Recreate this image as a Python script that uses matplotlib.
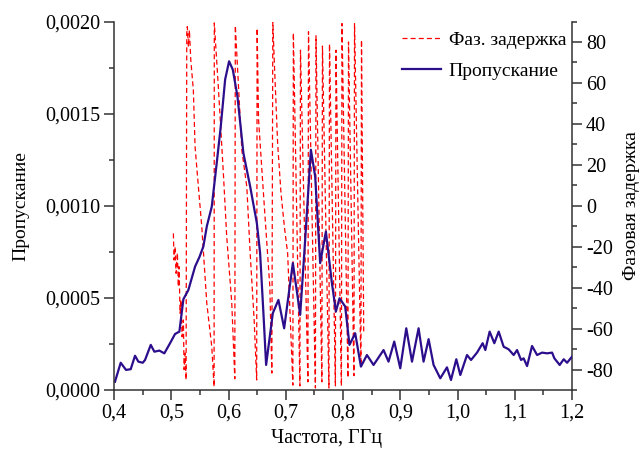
import matplotlib
matplotlib.use("Agg")
import matplotlib.pyplot as plt
from matplotlib.ticker import MultipleLocator, FuncFormatter

plt.rcParams['font.family'] = ['Liberation Serif', 'DejaVu Serif']

# transmission spectrum, GHz
trans_freq = [0.4017, 0.4117, 0.4210, 0.4292, 0.4367, 0.4425, 0.4502, 0.4542,
              0.4642, 0.4705, 0.4792, 0.4879, 0.4979, 0.5066, 0.5142, 0.5212,
              0.5299, 0.5416, 0.5491, 0.5561, 0.5621, 0.5708, 0.5795, 0.5865,
              0.5941, 0.6010, 0.6075, 0.6156, 0.6260, 0.6378, 0.6495, 0.6552,
              0.6610, 0.6657, 0.6774, 0.6872, 0.6972, 0.7124, 0.7252, 0.7339,
              0.7439, 0.7514, 0.7601, 0.7701, 0.7806, 0.7876, 0.7939, 0.8038,
              0.8113, 0.8213, 0.8313, 0.8418, 0.8533, 0.8592, 0.8708, 0.8795,
              0.8895, 0.9000, 0.9105, 0.9205, 0.9320, 0.9407, 0.9495, 0.9582,
              0.9699, 0.9816, 0.9886, 0.9979, 1.0049, 1.0166, 1.0236, 1.0341,
              1.0439, 1.0486, 1.0561, 1.0643, 1.0719, 1.0806, 1.0893, 1.0981,
              1.1040, 1.1110, 1.1155, 1.1215, 1.1302, 1.1390, 1.1477, 1.1565,
              1.1652, 1.1692, 1.1785, 1.1855, 1.1914, 1.2000]
trans_val = [0.0000451, 0.000148, 0.000109, 0.000113, 0.000186, 0.000154, 0.000148, 0.000163,
             0.000245, 0.000208, 0.000214, 0.000199, 0.000254, 0.000304, 0.000317, 0.000493,
             0.000543, 0.000670, 0.000721, 0.000779, 0.000888, 0.000996, 0.001234, 0.001431,
             0.001685, 0.001784, 0.001739, 0.001594, 0.001286, 0.001105, 0.000906, 0.000743,
             0.000417, 0.000136, 0.000417, 0.000489, 0.000335, 0.000689, 0.000408, 0.000815,
             0.001304, 0.001159, 0.000689, 0.000860, 0.000580, 0.000426, 0.000498, 0.000453,
             0.000245, 0.000308, 0.000127, 0.000190, 0.000136, 0.000163, 0.000217, 0.000154,
             0.000263, 0.000118, 0.000335, 0.000154, 0.000335, 0.000154, 0.000276, 0.000136,
             0.0000636, 0.000123, 0.0000544, 0.000167, 0.0000815, 0.000190, 0.000163, 0.000203,
             0.000254, 0.000217, 0.000317, 0.000254, 0.000317, 0.000235, 0.000221, 0.000190,
             0.000217, 0.000163, 0.000172, 0.000130, 0.000239, 0.000190, 0.000203, 0.000199,
             0.000203, 0.000172, 0.000136, 0.000167, 0.000148, 0.000181]

# wrapped phase delay, degrees
phase_freq = [0.5037, 0.5049, 0.5066, 0.5084, 0.5107, 0.5124, 0.5136, 0.5154,
              0.5171, 0.5189, 0.5212, 0.5224, 0.5241, 0.5259,
              0.5271, 0.5281, 0.5299, 0.5317, 0.5341, 0.5386, 0.5416, 0.5474,
              0.5533, 0.5621, 0.5708, 0.5748,
              0.5752, 0.5822, 0.5910, 0.5969, 0.6057, 0.6110,
              0.6119, 0.6233, 0.6320, 0.6378, 0.6448, 0.6492,
              0.6500, 0.6525, 0.6583, 0.6642, 0.6722, 0.6757,
              0.6774, 0.6801, 0.6858, 0.6917, 0.6976, 0.7033, 0.7114, 0.7124,
              0.7133, 0.7247, 0.7257, 0.7387, 0.7397, 0.7518, 0.7528, 0.7631,
              0.7641, 0.7754, 0.7764, 0.7867, 0.7877, 0.7972, 0.7982, 0.8086,
              0.8096, 0.8191, 0.8201, 0.8313, 0.8323, 0.8362]
phase_deg = [-13.5, -26.5, -20.0, -33.0, -23.0, -39.5, -29.8, -52.5,
             -46.0, -64.0, -55.8, -80.0, -72.0, -85.0,
             84.2, 87.5, 77.7, 85.8, 71.2, 56.5, 28.8, 9.3,
             -10.2, -47.7, -68.9, -88.4,
             89.3, 58.2, 16.0, -15.1, -47.5, -84.5,
             88.0, 27.2, 9.2, -23.1, -55.8, -85.1,
             86.7, 42.0, 17.5, -7.0, -39.6, -81.7,
             90.0, 69.6, 30.5, 6.1, -10.2, -23.2, -80.0, -87.6,
             84.4, -88.0, 76.0, -86.0, 85.0, -89.0, 83.0, -86.0,
             78.0, -89.0, 79.0, -88.0, 76.0, -88.0, 89.0, -84.0,
             80.0, -83.0, 89.0, -78.0, 81.0, -62.0]

fig = plt.figure(figsize=(6.43, 4.5), dpi=100)
ax = fig.add_axes([0.1773, 0.1333, 0.7123, 0.8189])
ax2 = ax.twinx()

ph_line, = ax2.plot(phase_freq, phase_deg, color='red', lw=0.9,
                    linestyle=(0, (4, 2.5)), label='Фаз. задержка')
tr_line, = ax.plot(trans_freq, trans_val, color='#2c0e8c', lw=1.6,
                   label='Пропускание')

# transmission drawn over the phase trace
ax.set_zorder(ax2.get_zorder() + 1)
ax.patch.set_visible(False)

ax.set_xlim(0.4, 1.2)
ax.set_ylim(0, 0.002)
ax2.set_ylim(-90, 90)

ax.xaxis.set_major_locator(MultipleLocator(0.1))
ax.xaxis.set_minor_locator(MultipleLocator(0.05))
ax.yaxis.set_major_locator(MultipleLocator(0.0005))
ax.yaxis.set_minor_locator(MultipleLocator(0.00025))
ax2.yaxis.set_major_locator(MultipleLocator(20))
ax2.yaxis.set_minor_locator(MultipleLocator(10))

ax.xaxis.set_major_formatter(FuncFormatter(lambda v, p: f"{v:.1f}".replace('.', ',')))
ax.yaxis.set_major_formatter(FuncFormatter(lambda v, p: f"{v:.4f}".replace('.', ',')))
ax2.yaxis.set_major_formatter(FuncFormatter(lambda v, p: f"{int(round(v))}"))

for a in (ax, ax2):
    a.tick_params(which='major', direction='out', length=7, width=1.1,
                  labelsize=14.5, color='#333333', pad=3)
    a.tick_params(which='minor', direction='out', length=3.5, width=1.1,
                  color='#333333')
    for side in ('left', 'right', 'bottom'):
        a.spines[side].set_linewidth(1.1)
        a.spines[side].set_color('#333333')
    a.spines['top'].set_visible(False)
ax.spines['right'].set_visible(False)
ax2.spines['left'].set_visible(False)
ax2.spines['bottom'].set_visible(False)

ax.set_xlabel('Частота, ГГц', fontsize=14.5)
ax.xaxis.set_label_coords(0.463, -0.105)
ax.set_ylabel('Пропускание', fontsize=14)
ax.yaxis.set_label_coords(-0.185, 0.5)
ax2.set_ylabel('Фазовая задержка', fontsize=14)
ax2.yaxis.set_label_coords(1.111, 0.5)

ax.legend([ph_line, tr_line], ['Фаз. задержка', 'Пропускание'],
          loc='upper left', bbox_to_anchor=(0.629, 0.974), frameon=False,
          fontsize=14, handlelength=2.0, handletextpad=0.4,
          borderaxespad=0, borderpad=0, labelspacing=0.7)

fig.savefig('out.png', dpi=100)
